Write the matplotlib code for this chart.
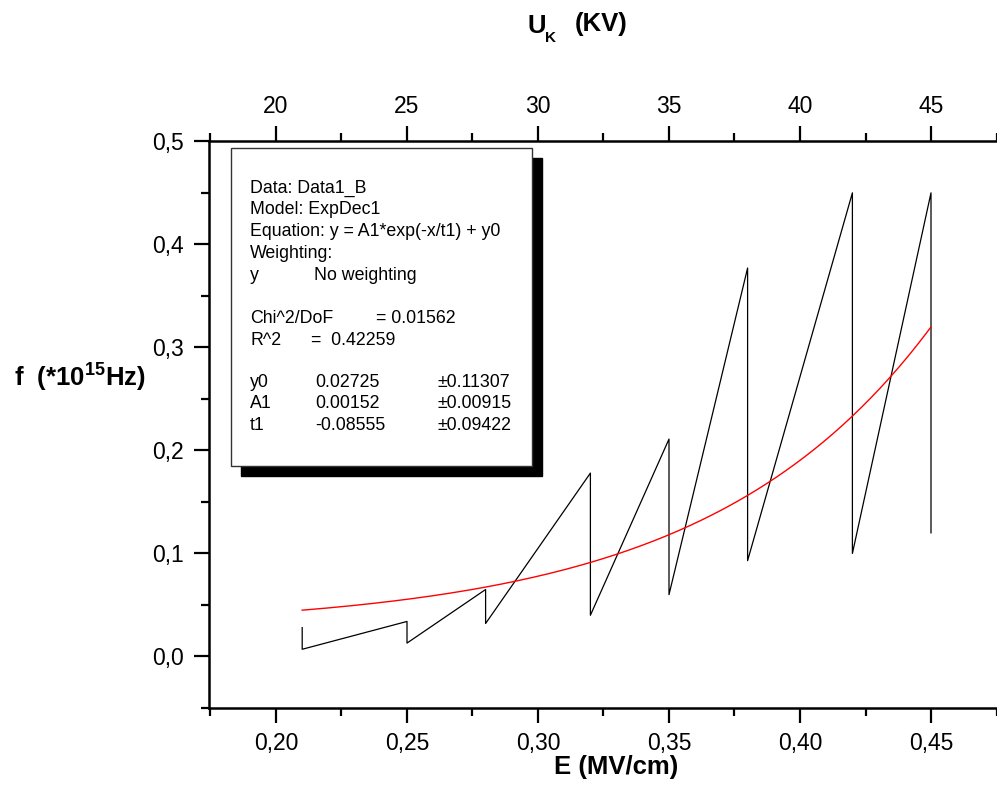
# -*- coding: utf-8 -*-
import matplotlib
matplotlib.use('Agg')
import matplotlib.pyplot as plt
import numpy as np
from matplotlib.patches import Rectangle

plt.rcParams['font.family'] = ['Liberation Sans', 'DejaVu Sans']
plt.rcParams['mathtext.fontset'] = 'custom'
plt.rcParams['mathtext.rm'] = 'Liberation Sans'
plt.rcParams['mathtext.bf'] = 'Liberation Sans:bold'

# measured data (sawtooth)
E = [0.21, 0.21, 0.25, 0.25, 0.28, 0.28, 0.32, 0.32, 0.35, 0.35, 0.38, 0.38, 0.42, 0.42, 0.45, 0.45]
f = [0.028, 0.007, 0.034, 0.013, 0.065, 0.032, 0.178, 0.040, 0.211, 0.060, 0.377, 0.093, 0.450, 0.100, 0.450, 0.120]

# ExpDec1 fit parameters (from the box)
y0 = 0.02725
A1 = 0.00152
t1 = -0.08555

xticks = [0.20, 0.25, 0.30, 0.35, 0.40, 0.45]
yticks = [0.0, 0.1, 0.2, 0.3, 0.4, 0.5]
top_ticks = [20, 25, 30, 35, 40, 45]

W, H = 997, 787
def fx(px):
    return px / W
def fy(py):
    return 1 - py / H

fig = plt.figure(figsize=(9.97, 7.87), dpi=100)
ax = fig.add_axes([fx(209), fy(708), fx(997) - fx(209), fy(141.3) - fy(708)])

ax.plot(E, f, color='black', lw=0.9)
xfit = np.linspace(min(E), max(E), 200)
ax.plot(xfit, A1 * np.exp(-xfit / t1) + y0, color='red', lw=1.0)

ax.set_xlim(0.17443, 0.47519)
ax.set_ylim(-0.05, 0.5)
ax.set_xticks(xticks)
ax.set_xticklabels([('%.2f' % v).replace('.', ',') for v in xticks])
ax.set_xticks(np.arange(0.175, 0.48, 0.05), minor=True)
ax.set_yticks(yticks)
ax.set_yticklabels([('%.1f' % v).replace('.', ',') for v in yticks])
ax.set_yticks([-0.05, 0.05, 0.15, 0.25, 0.35, 0.45], minor=True)
ax.tick_params(which='major', direction='out', length=11, width=1.6, labelsize=16.5, pad=6)
ax.tick_params(which='minor', direction='out', length=5.5, width=1.6)
ax.tick_params(axis='y', pad=7)
for s in ['right', 'top']:
    ax.spines[s].set_visible(False)
for s in ['left', 'bottom']:
    ax.spines[s].set_linewidth(1.8)

# top axis in KV
ax2 = ax.twiny()
ax2.set_xlim(17.443, 47.519)
ax2.set_xticks(top_ticks)
ax2.set_xticks(np.arange(17.5, 48, 5), minor=True)
ax2.tick_params(which='major', direction='out', length=11, width=1.6, labelsize=16.5, pad=6)
ax2.tick_params(which='minor', direction='out', length=5.5, width=1.6)
for s in ['right', 'left', 'bottom']:
    ax2.spines[s].set_visible(False)
ax2.spines['top'].set_linewidth(1.8)

# labels
fig.text(fx(616), fy(767), 'E (MV/cm)', fontsize=18.5, fontweight='bold', ha='center', va='center')
fig.text(fx(527), fy(33), 'U', fontsize=18.5, fontweight='bold', ha='left', va='baseline')
fig.text(fx(545), fy(42), 'K', fontsize=11, fontweight='bold', ha='left', va='baseline')
fig.text(fx(575), fy(24), '(KV)', fontsize=18.5, fontweight='bold', ha='left', va='center')
fig.text(fx(80), fy(377), r'f  (*10$^{\mathbf{15}}$Hz)', fontsize=18.5, fontweight='bold', ha='center', va='center')

# fit results box with shadow
fig.add_artist(Rectangle((fx(241), fy(476)), fx(542) - fx(241), fy(158) - fy(476),
                         transform=fig.transFigure, facecolor='black', edgecolor='black', zorder=5))
fig.add_artist(Rectangle((fx(231), fy(466)), fx(532) - fx(231), fy(148) - fy(466),
                         transform=fig.transFigure, facecolor='white', edgecolor='#333333', lw=1.0, zorder=6))

box_lines = [
    (250, 188, 'Data: Data1_B'),
    (250, 210, 'Model: ExpDec1'),
    (250, 232, 'Equation: y = A1*exp(-x/t1) + y0'),
    (250, 254, 'Weighting:'),
    (250, 275, 'y'),
    (314, 275, 'No weighting'),
    (250, 318, 'Chi^2/DoF'),
    (376, 318, '= 0.01562'),
    (250, 340, 'R^2'),
    (311, 340, '=  0.42259'),
    (250, 383, 'y0'),
    (315, 383, '0.02725'),
    (437, 383, '\u00b10.11307'),
    (250, 404, 'A1'),
    (315, 404, '0.00152'),
    (437, 404, '\u00b10.00915'),
    (250, 426, 't1'),
    (315, 426, '-0.08555'),
    (437, 426, '\u00b10.09422'),
]
for px, py, s in box_lines:
    fig.text(fx(px), fy(py), s, fontsize=12.8, ha='left', va='center', zorder=7)

plt.savefig('out.png', dpi=100)
